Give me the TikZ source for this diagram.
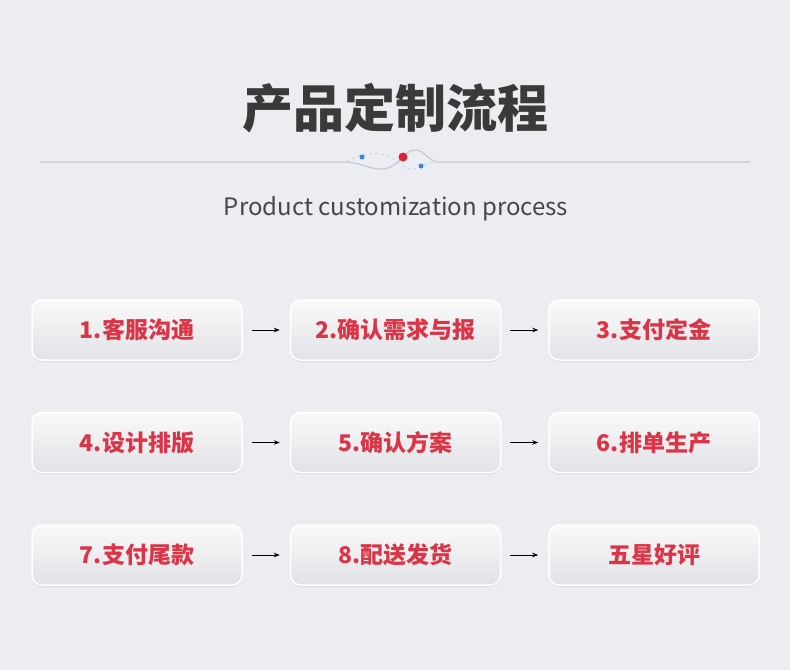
\documentclass[tikz,border=0pt]{standalone}
\usepackage{fontspec}
\setmainfont{Noto Sans CJK SC}
\usepackage{tikz}
\usetikzlibrary{arrows, arrows.meta, positioning, shadows}

\definecolor{bgcol}{HTML}{ECEDF0}
\definecolor{titlecol}{HTML}{3A3A3A}
\definecolor{subcol}{HTML}{474747}
\definecolor{linecol}{HTML}{C5C8D8}
\definecolor{stepred}{HTML}{DC3447}
\definecolor{dotred}{HTML}{E0213A}
\definecolor{dotblue}{HTML}{3E80E6}
\definecolor{dashblue}{HTML}{C9D8EE}
\definecolor{boxbottom}{HTML}{E1E2E6}

\begin{document}
\begin{tikzpicture}[
    x=1pt, y=-1pt,
    node distance=47pt,
    stepbox/.style={rectangle, rounded corners=10pt, minimum width=210pt, minimum height=60pt, text centered,
        draw=white, line width=1.5pt, top color=white!70!bgcol, bottom color=boxbottom,
        drop shadow={opacity=0.12, shadow xshift=0pt, shadow yshift=-2pt},
        text=stepred, font=\fontsize{23}{26}\selectfont\bfseries},
    arrow/.style={-{Stealth[length=6pt, width=4.5pt]}, line width=0.8pt, shorten <=9pt, shorten >=10pt}
]

\fill [bgcol] (0,0) rectangle (790,670);
\useasboundingbox (0,0) rectangle (790,670);

\node (title) [text=titlecol, font=\fontsize{51}{54}\selectfont\bfseries] at (395,108) {产品定制流程};
\node (subtitle) [text=subcol, font=\fontsize{24}{27}\selectfont] at (396,209) {Product customization process};

% divider with wave
\draw [linecol, line width=1.2pt] (40,162) -- (347,162)
    .. controls (365,164) and (375,172) .. (388,168)
    .. controls (400,164) and (405,150) .. (415,150)
    .. controls (425,150) and (428,162) .. (440,162) -- (750,162);
\draw [dashblue, dashed, line width=1.2pt] (347,162)
    .. controls (360,152) and (380,150) .. (395,160)
    .. controls (405,168) and (410,172) .. (420,167)
    .. controls (428,163) and (432,162) .. (440,162);
\fill [dotred] (403,157) circle (4.5pt);
\fill [dotblue] (362,157) circle (2.5pt);
\fill [dotblue] (421,166) circle (2.5pt);

\node (service) [stepbox] at (137,330) {1.客服沟通};
\node (quote) [stepbox, right=of service] {2.确认需求与报};
\node (deposit) [stepbox, right=of quote] {3.支付定金};

\node (design) [stepbox, below=51pt of service] {4.设计排版};
\node (confirm) [stepbox, right=of design] {5.确认方案};
\node (schedule) [stepbox, right=of confirm] {6.排单生产};

\node (balance) [stepbox, below=51pt of design] {7.支付尾款};
\node (ship) [stepbox, right=of balance] {8.配送发货};
\node (review) [stepbox, right=of ship] {五星好评};

\draw [arrow] (service) -- (quote);
\draw [arrow] (quote) -- (deposit);
\draw [arrow] (design) -- (confirm);
\draw [arrow] (confirm) -- (schedule);
\draw [arrow] (balance) -- (ship);
\draw [arrow] (ship) -- (review);

\end{tikzpicture}
\end{document}
